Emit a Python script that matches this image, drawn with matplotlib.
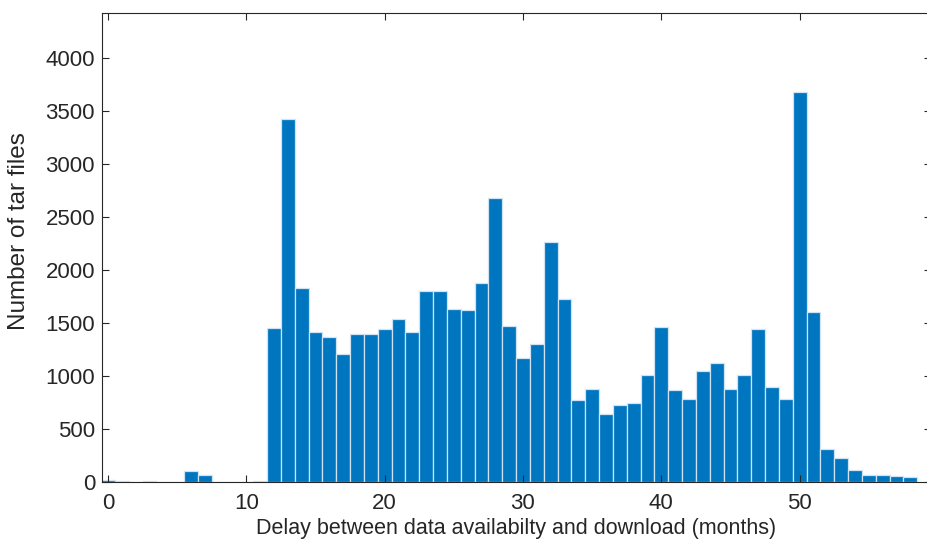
import matplotlib
matplotlib.use("Agg")
import matplotlib.pyplot as plt
import numpy as np

months = list(range(0, 59))
counts = [20, 9, 0, 9, 0, 0, 107, 70, 0, 0,
          0, 9, 1452, 3418, 1828, 1416, 1366, 1206, 1392, 1397,
          1442, 1537, 1413, 1800, 1804, 1633, 1617, 1875, 2672, 1466,
          1168, 1296, 2262, 1724, 775, 872, 644, 727, 746, 1010,
          1463, 869, 786, 1048, 1124, 878, 1007, 1445, 897, 783,
          3673, 1602, 309, 224, 110, 63, 70, 53, 46]
yticks = [0, 500, 1000, 1500, 2000, 2500, 3000, 3500, 4000]
xticks = [0, 10, 20, 30, 40, 50]

plt.rcParams['font.family'] = ['Liberation Sans', 'DejaVu Sans']

W, H = 928, 539
fig = plt.figure(figsize=(W / 100, H / 100), dpi=100)
L, R, T, B = 102, 931, 13, 482
ax = fig.add_axes([L / W, (H - B) / H, (R - L) / W, (B - T) / H])

ax.bar(months, counts, width=1.0, align='center', color='#0076C1',
       edgecolor='#CFE3F2', linewidth=0.9)

ax.set_xlim(-0.43, 59.5)
ax.set_ylim(0, 4420)
ax.set_xticks(xticks)
ax.set_yticks(yticks)
ax.tick_params(direction='in', length=5, width=0.8, colors='#262626',
               labelsize=16, top=True, right=True)
ax.tick_params(axis='y', pad=5)
ax.tick_params(axis='x', pad=8)
for lab in ax.get_xticklabels() + ax.get_yticklabels():
    lab.set_color('#262626')
for s in ax.spines.values():
    s.set_color('#262626')
    s.set_linewidth(0.8)

ax.set_xlabel('Delay between data availabilty and download (months)',
              fontsize=15.5, color='#262626', labelpad=3)
ax.set_ylabel('Number of tar files', fontsize=17.5, color='#262626')
ax.yaxis.set_label_coords(-0.087, 0.535)

fig.savefig('out.png', dpi=100)
